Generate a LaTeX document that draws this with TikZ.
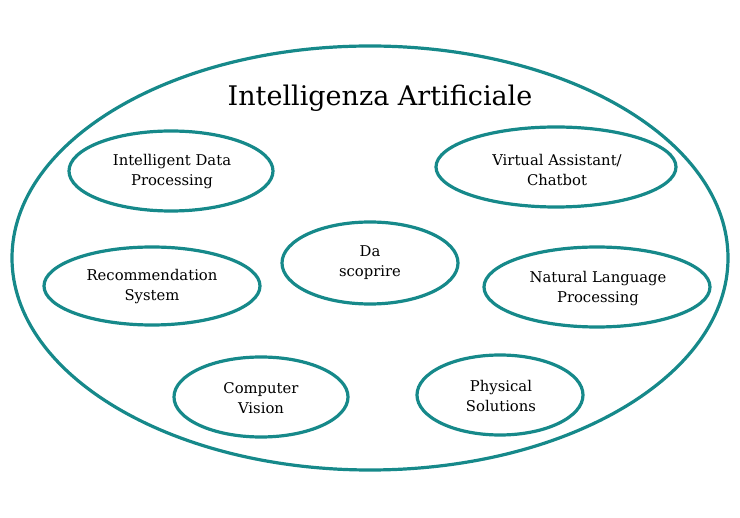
\documentclass[tikz,border=0pt]{standalone}
\usepackage{fontspec}
\setmainfont{DejaVu Serif}
\usetikzlibrary{shapes.geometric}
\definecolor{teal1}{HTML}{16898A}
\tikzset{
  lab/.style={align=center, font=\fontsize{14.8}{20}\selectfont, text=black},
  rim/.style={draw=teal1, line width=3.2pt},
}
\begin{document}
\begin{tikzpicture}[x=1pt,y=-1pt]
\useasboundingbox (0,0) rectangle (740,518);
\draw[rim] (370,258) ellipse [x radius=358, y radius=212];
\node[font=\fontsize{27}{34}\selectfont] (title) at (380,98) {Intelligenza Artificiale};
\draw[rim] (171,171) ellipse [x radius=102, y radius=40];
\node[lab] (idp) at (172,172) {Intelligent Data\\Processing};
\draw[rim] (556,167) ellipse [x radius=120, y radius=40];
\node[lab] (va) at (557,170) {Virtual Assistant/\\Chatbot};
\draw[rim] (370,263) ellipse [x radius=88, y radius=41];
\node[lab] (ds) at (370,263) {Da\\scoprire};
\draw[rim] (152,286) ellipse [x radius=108, y radius=39];
\node[lab] (rs) at (152,287) {Recommendation\\System};
\draw[rim] (597,287) ellipse [x radius=113, y radius=40];
\node[lab] (nlp) at (598,289) {Natural Language\\Processing};
\draw[rim] (261,397) ellipse [x radius=87, y radius=40];
\node[lab] (cv) at (261,398) {Computer\\Vision};
\draw[rim] (500,395) ellipse [x radius=83, y radius=40];
\node[lab] (ps) at (501,396) {Physical\\Solutions};
\end{tikzpicture}
\end{document}
